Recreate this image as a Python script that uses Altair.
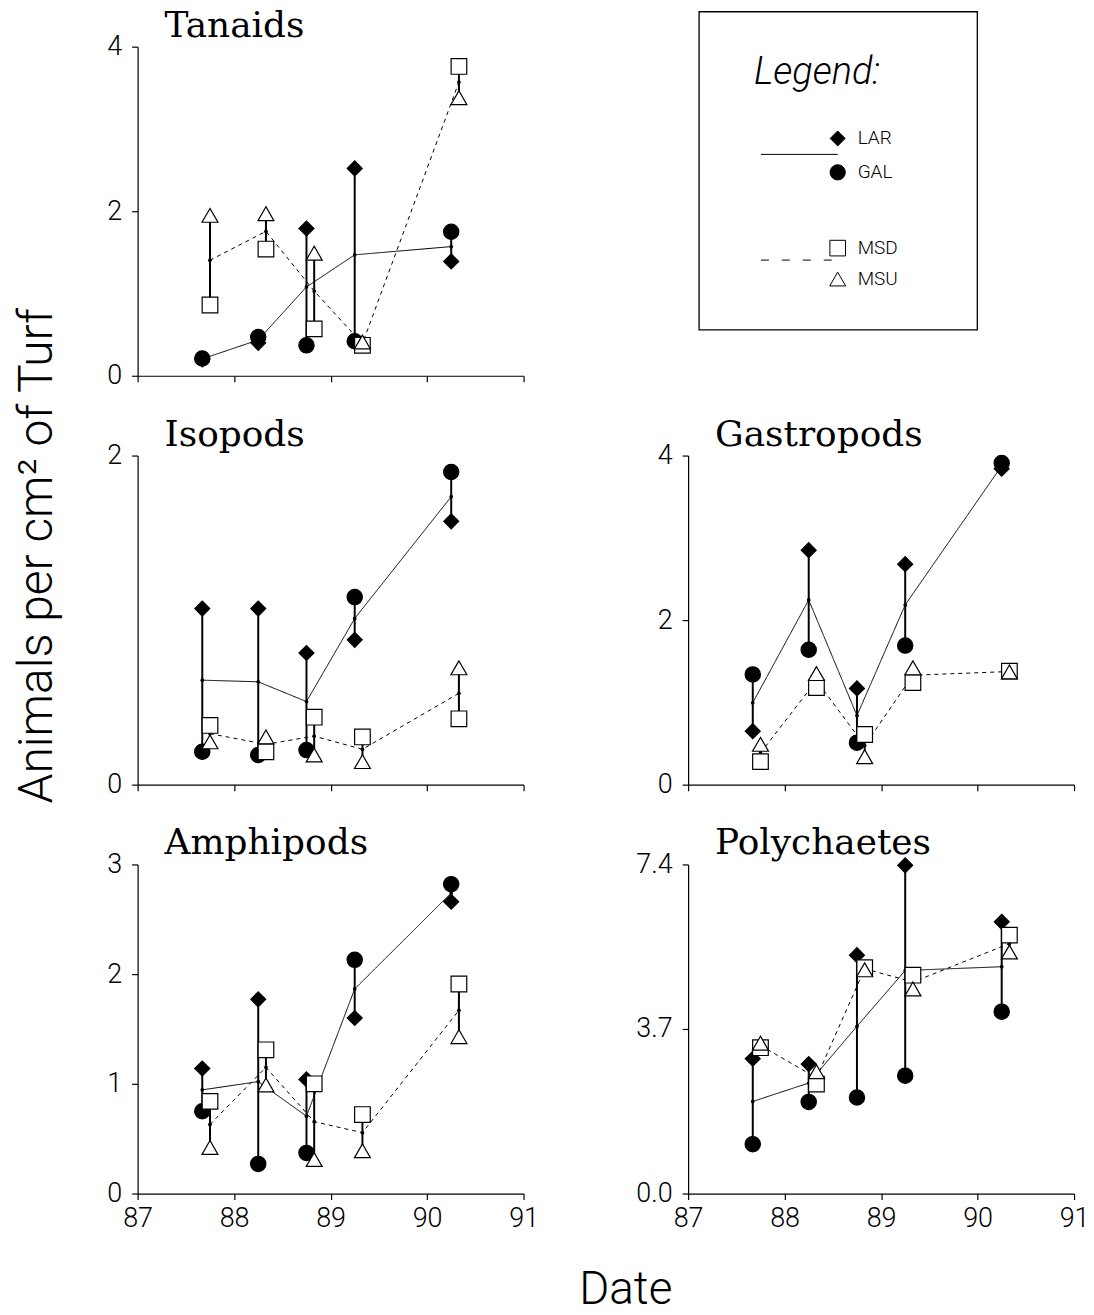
import altair as alt
import pandas as pd

# ---------------- data ----------------
x_solid = [87.67, 88.25, 88.75, 89.25, 90.25]   # LAR / GAL sampling dates
x_dashed = [87.75, 88.33, 88.83, 89.33, 90.33]  # MSD / MSU sampling dates

panels = ["Tanaids", "Isopods", "Amphipods", "Gastropods", "Polychaetes"]

LAR = {
    "Tanaids": [0.20, 0.40, 1.79, 2.52, 1.39],
    "Isopods": [1.07, 1.07, 0.80, 0.88, 1.60],
    "Amphipods": [1.14, 1.77, 1.04, 1.60, 2.66],
    "Gastropods": [0.65, 2.85, 1.17, 2.68, 3.84],
    "Polychaetes": [3.03, 2.91, 5.36, 7.38, 6.11],
}
GAL = {
    "Tanaids": [0.21, 0.47, 0.37, 0.42, 1.75],
    "Isopods": [0.20, 0.18, 0.21, 1.14, 1.90],
    "Amphipods": [0.75, 0.27, 0.37, 2.13, 2.82],
    "Gastropods": [1.34, 1.64, 0.51, 1.69, 3.91],
    "Polychaetes": [1.11, 2.06, 2.16, 2.65, 4.09],
}
MSD = {
    "Tanaids": [0.86, 1.54, 0.57, 0.37, 3.76],
    "Isopods": [0.36, 0.20, 0.41, 0.29, 0.40],
    "Amphipods": [0.84, 1.31, 1.00, 0.72, 1.91],
    "Gastropods": [0.28, 1.18, 0.61, 1.24, 1.38],
    "Polychaetes": [3.28, 2.46, 5.08, 4.91, 5.81],
}
MSU = {
    "Tanaids": [1.95, 1.97, 1.49, 0.41, 3.38],
    "Isopods": [0.26, 0.29, 0.18, 0.14, 0.71],
    "Amphipods": [0.42, 0.99, 0.31, 0.39, 1.43],
    "Gastropods": [0.49, 1.35, 0.34, 1.42, 1.37],
    "Polychaetes": [3.38, 2.74, 5.03, 4.60, 5.43],
}

y_ticks = {
    "Tanaids": [0, 2, 4],
    "Isopods": [0, 1, 2],
    "Amphipods": [0, 1, 2, 3],
    "Gastropods": [0, 2, 4],
    "Polychaetes": [0.0, 3.7, 7.4],
}
x_ticks = [87, 88, 89, 90, 91]

sites = ["LAR", "GAL", "MSD", "MSU"]
site_group = {"LAR": "solid", "GAL": "solid", "MSD": "dashed", "MSU": "dashed"}
y_title = "Animals per cm\u00b2 of Turf"
x_title = "Date"

# ---------------- table ----------------
rows = []
for p in panels:
    for s, src in zip(sites, [LAR, GAL, MSD, MSU]):
        xs = x_solid if site_group[s] == "solid" else x_dashed
        for xv, v in zip(xs, src[p]):
            rows.append({"panel": p, "site": s, "grp": site_group[s], "x": xv, "v": v})
df = pd.DataFrame(rows)

LABEL_FONT = "Roboto"
SERIF = "DejaVu Serif"

shape_scale = alt.Scale(domain=sites, range=["diamond", "circle", "square", "triangle-up"])
fill_scale = alt.Scale(domain=sites, range=["black", "black", "white", "white"])
size_scale = alt.Scale(domain=sites, range=[225, 256, 140, 160])
dash_scale = alt.Scale(domain=["solid", "dashed"], range=[[1, 0], [4, 4]])

W, H = 387, 330


def panel(name, xlabels, ytitle=False, xtitle=False):
    d = df[df.panel == name]
    ticks = y_ticks[name]
    fmt = ".1f" if name == "Polychaetes" else "d"
    xaxis = alt.Axis(values=x_ticks, labels=xlabels, format="d", title=None,
                     labelFlush=False)
    if xtitle:
        xaxis = alt.Axis(values=x_ticks, labels=xlabels, format="d", title=x_title,
                         titleX=489, titleY=110, titleAlign="center",
                         titleBaseline="alphabetic", titleFont=LABEL_FONT,
                         titleFontWeight=300, titleFontSize=46, titleColor="black",
                         labelFlush=False)
    if ytitle:
        yaxis = alt.Axis(values=ticks, format=fmt, title=y_title,
                         titleX=-86, titleY=100, titleAngle=270, titleAlign="center",
                         titleBaseline="alphabetic", titleFont=LABEL_FONT,
                         titleFontWeight=300, titleFontSize=48, titleColor="black",
                         labelFlush=False)
    else:
        yaxis = alt.Axis(values=ticks, format=fmt, title=None, labelFlush=False)

    X = alt.X("x:Q", scale=alt.Scale(domain=[87, 91], nice=False, zero=False), axis=xaxis)

    def Y(field):
        return alt.Y(field + ":Q", scale=alt.Scale(domain=[0, ticks[-1]], nice=False, zero=True),
                     axis=yaxis)

    base = alt.Chart(d)
    rule = base.transform_aggregate(
        lo="min(v)", hi="max(v)", groupby=["x", "grp"]
    ).mark_rule(color="black", strokeWidth=2).encode(x=X, y=Y("lo"), y2="hi:Q")
    means = base.transform_aggregate(m="mean(v)", groupby=["x", "grp"])
    mline = means.mark_line(color="black", strokeWidth=1).encode(
        x=X, y=Y("m"),
        strokeDash=alt.StrokeDash("grp:N", scale=dash_scale, legend=None),
        detail="grp:N", order="x:Q")
    mdot = means.mark_point(filled=True, color="black", size=14, opacity=1).encode(x=X, y=Y("m"))
    pts = base.mark_point(filled=True, stroke="black", strokeWidth=1.2, opacity=1).encode(
        x=X, y=Y("v"),
        shape=alt.Shape("site:N", scale=shape_scale, legend=None),
        fill=alt.Fill("site:N", scale=fill_scale, legend=None),
        size=alt.Size("site:N", scale=size_scale, legend=None),
    )
    ttl = alt.Chart(pd.DataFrame({"t": [name]})).mark_text(
        font=SERIF, fontSize=36, color="black", align="left", baseline="alphabetic"
    ).encode(text="t:N", x=alt.value(27), y=alt.value(-10))
    return alt.layer(rule, mline, mdot, pts, ttl).properties(width=W, height=H)


# ---------------- legend panel ----------------
BX0, BX1 = 11, 290          # box edges (px, relative to panel)
leg = pd.DataFrame({
    "label": sites,
    "ly": [92, 126, 202, 233],
})
ly_scale = alt.Scale(domain=[0, H], range=[0, H])
one = alt.Chart(leg).transform_filter(alt.datum.label == "LAR")
leg_box = one.mark_rect(fill=None, stroke="black", strokeWidth=1.3).encode(
    x=alt.value(BX0), x2=alt.value(BX1), y=alt.value(-35), y2=alt.value(284))
leg_title = one.mark_text(
    text="Legend:", font=LABEL_FONT, fontStyle="italic", fontWeight=300, fontSize=38,
    align="left", baseline="alphabetic", color="black").encode(
    x=alt.value(BX0 + 55), y=alt.value(37))
leg_pts = alt.Chart(leg).mark_point(filled=True, stroke="black", strokeWidth=1, opacity=1).encode(
    x=alt.value(BX0 + 139),
    y=alt.Y("ly:Q", scale=ly_scale, axis=None),
    shape=alt.Shape("label:N", scale=shape_scale, legend=None),
    fill=alt.Fill("label:N", scale=fill_scale, legend=None),
    size=alt.Size("label:N", scale=alt.Scale(domain=sites, range=[110, 144, 64, 70]), legend=None),
)
leg_txt = alt.Chart(leg).mark_text(align="left", baseline="middle", font=LABEL_FONT,
                                   fontWeight=300, fontSize=19, color="black").encode(
    x=alt.value(BX0 + 159), y=alt.Y("ly:Q", scale=ly_scale, axis=None), text="label:N")
leg_solid = one.mark_rule(color="black", strokeWidth=1).encode(
    x=alt.value(BX0 + 62), x2=alt.value(BX0 + 139), y=alt.value(108))
leg_dash = one.mark_rule(color="black", strokeWidth=1, strokeDash=[8, 13]).encode(
    x=alt.value(BX0 + 62), x2=alt.value(BX0 + 134), y=alt.value(214))
legend_panel = alt.layer(leg_box, leg_title, leg_solid, leg_dash, leg_pts, leg_txt).properties(
    width=W, height=H)

chart = alt.concat(
    panel("Tanaids", False), legend_panel,
    panel("Isopods", False, ytitle=True), panel("Gastropods", False),
    panel("Amphipods", True, xtitle=True), panel("Polychaetes", True),
    columns=2, spacing={"row": 80, "column": 165}, bounds="flush",
).properties(
    padding={"left": 13, "top": 6, "right": 5, "bottom": 0},
    background="white",
).configure_view(stroke=None).configure_axis(
    domainColor="black", tickColor="black", labelColor="black", grid=False,
    tickSize=6, domainWidth=1.2, tickWidth=1.2,
    labelFont=LABEL_FONT, labelFontWeight=300, labelFontSize=27,
).configure_axisX(labelPadding=6).configure_axisY(labelPadding=10)

chart.save("out.html", embed_options={"renderer": "svg", "actions": False})
